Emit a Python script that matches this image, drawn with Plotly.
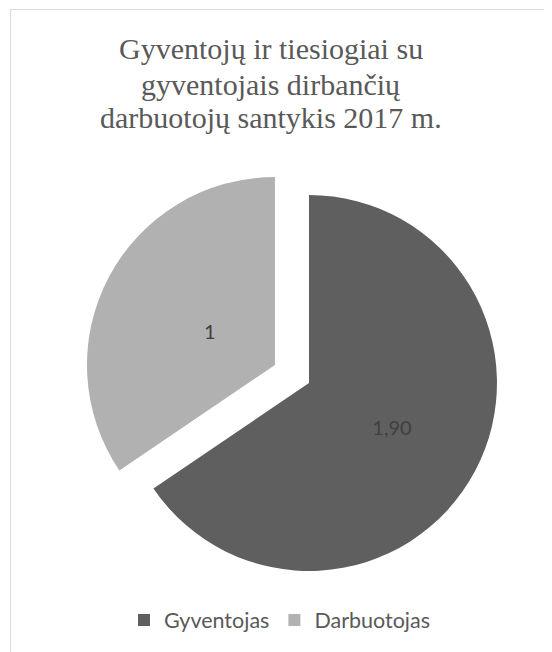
import plotly.graph_objects as go

categories = ["Gyventojas", "Darbuotojas"]
values = [1.90, 1.0]
value_labels = ["1,90", "1"]
title_lines = ["Gyventojų ir tiesiogiai su", "gyventojais dirbančių", "darbuotojų santykis 2017 m."]
colors = ["#5f5f5f", "#b1b1b1"]
pulls = [0, 0.205]

# page body has an 8px margin, so the figure is drawn 8px smaller
W, H = 544, 644

NB = "\u00a0"
# nudge the small label of the exploded slice toward its vertex (as in the reference)
label_text = [value_labels[0], NB + "<br>" + NB * 9 + value_labels[1]]

fig = go.Figure()
fig.add_trace(go.Pie(
    labels=categories,
    values=values,
    text=label_text,
    textinfo="text",
    textposition="inside",
    insidetextorientation="horizontal",
    sort=False,
    direction="clockwise",
    rotation=0,
    pull=pulls,
    marker=dict(colors=colors, line=dict(width=0)),
    textfont=dict(family="Lato", size=20, color="#404040"),
    hoverinfo="label+value",
    domain=dict(x=[74.5 / W, 527.5 / W], y=[(H - 601.5) / H, (H - 148.5) / H]),
))

ys = [41, 76, 110]
for line, yp in zip(title_lines, ys):
    fig.add_annotation(
        text=line, x=262.5 / W, xref="paper", y=1 - yp / H, yref="paper",
        xanchor="center", yanchor="middle", showarrow=False,
        font=dict(family="Liberation Serif", size=30, color="#595959"),
    )

# chart frame (top and left edges visible)
fig.add_shape(type="line", xref="paper", yref="paper",
              x0=2 / W, x1=1, y0=1 - 1.5 / H, y1=1 - 1.5 / H,
              line=dict(color="#d9d9d9", width=1))
fig.add_shape(type="line", xref="paper", yref="paper",
              x0=2.5 / W, x1=2.5 / W, y0=0, y1=1 - 1.5 / H,
              line=dict(color="#d9d9d9", width=1))

fig.update_layout(
    width=W, height=H,
    margin=dict(l=0, r=0, t=0, b=0),
    paper_bgcolor="white",
    plot_bgcolor="white",
    showlegend=True,
    legend=dict(orientation="h", x=116 / W, xanchor="left", y=1 - 612 / H, yanchor="middle",
                font=dict(family="Lato", size=21.5, color="#595959"),
                itemwidth=30, traceorder="normal"),
)

fig.write_html("out.html")
